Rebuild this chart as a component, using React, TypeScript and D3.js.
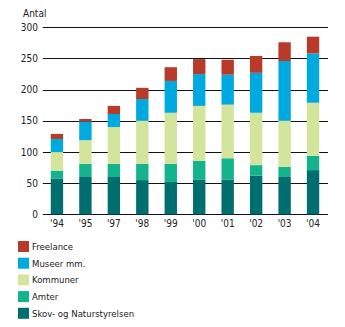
import React from "react";
import * as d3 from "d3";

const years = ["'94", "'95", "'97", "'98", "'99", "'00", "'01", "'02", "'03", "'04"];
// cumulative tops, converted to segment values
const skov = [57, 60, 60, 55, 52, 56, 56, 62, 60, 71];
const amter = [13, 21, 21, 26, 29, 30, 34, 17, 16, 23];
const kommuner = [30, 38, 59, 69, 82, 88, 86, 84, 74, 85];
const museer = [21, 30, 21, 35, 51, 51, 48, 64, 96, 79];
const freelance = [8, 4, 13, 18, 22, 24, 24, 27, 30, 27];
const yTicks = [0, 50, 100, 150, 200, 250, 300];

const seriesNames = ["Skov- og Naturstyrelsen", "Amter", "Kommuner", "Museer mm.", "Freelance"];
const seriesData = [skov, amter, kommuner, museer, freelance];
const colors = ["#006e6e", "#13b48b", "#d3e49d", "#00a9e0", "#b83a29"];

export default function App() {
  const W = 345, H = 327;
  const x = d3.scaleBand().domain(years).range([42.8, 327.2]).paddingInner(0.565).paddingOuter(0.28);
  const y = d3.scaleLinear().domain([0, 300]).range([214.4, 27.3]);
  const table = years.map((yr, i) => {
    const o: any = { year: yr };
    seriesNames.forEach((n, k) => (o[n] = seriesData[k][i]));
    return o;
  });
  const stacked = d3.stack().keys(seriesNames)(table);
  const font = "'DejaVu Sans Condensed', 'DejaVu Sans', sans-serif";
  const legendOrder = [4, 3, 2, 1, 0];
  return (
    <svg width={W} height={H} style={{ position: "absolute", left: 0, top: 0, background: "#fff" }}>
      <text x={23} y={17} fontSize={10} fontFamily={font} fill="#222">Antal</text>
      {yTicks.map((t) => (
        <g key={t}>
          <line x1={42.8} x2={328} y1={Math.round(y(t)) + 0.5} y2={Math.round(y(t)) + 0.5} stroke="#111" strokeWidth={1} />
          <text x={38} y={y(t) + 3.5} fontSize={10} fontFamily={font} textAnchor="end" fill="#222">{t}</text>
        </g>
      ))}
      {stacked.map((s, k) => (
        <g key={k} fill={colors[k]}>
          {s.map((d, i) => (
            <rect key={i} x={x(years[i])!} width={x.bandwidth()} y={y(d[1])} height={y(d[0]) - y(d[1])} />
          ))}
        </g>
      ))}
      {years.map((yr) => (
        <text key={yr} x={x(yr)! + x.bandwidth() / 2} y={227} fontSize={10} fontFamily={font} textAnchor="middle" fill="#222">{yr}</text>
      ))}
      {legendOrder.map((k, j) => (
        <g key={k} transform={`translate(18, ${241 + j * 16.7})`}>
          <rect width={11} height={11} fill={colors[k]} />
          <text x={14} y={9} fontSize={9.5} fontFamily={font} fill="#222">{seriesNames[k]}</text>
        </g>
      ))}
    </svg>
  );
}
